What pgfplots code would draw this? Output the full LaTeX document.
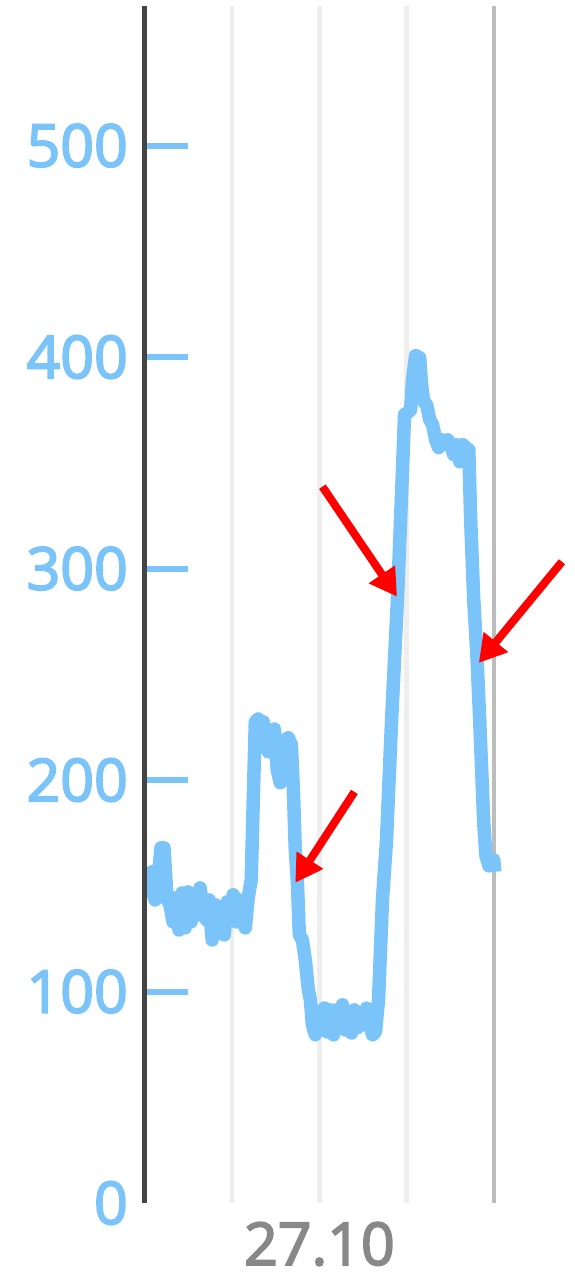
\documentclass[border=0pt]{standalone}
\usepackage{fontspec}
\setmainfont{Open Sans}
\newfontfamily\tickfont{Open Sans}[FakeBold=3]
\usepackage{pgfplots}
\pgfplotsset{compat=1.18}
\usetikzlibrary{arrows.meta}

\definecolor{lineblue}{HTML}{7BC4FA}
\definecolor{axisdark}{HTML}{444444}
\definecolor{gridlight}{HTML}{EEEEEE}
\definecolor{gridmid}{HTML}{BDBDBD}
\definecolor{labelgray}{HTML}{888888}
\definecolor{arrowred}{HTML}{FF0000}

\begin{document}
\begin{tikzpicture}
\useasboundingbox (0,0) rectangle (574pt,1275pt);
\begin{axis}[
    at={(145pt,72pt)}, anchor=south west,
    scale only axis, width=429pt, height=1197pt,
    xmin=-12, xmax=17.52, ymin=0, ymax=566,
    clip mode=individual,
    axis line style={draw=none},
    % hours around 27.10 00:00
    xtick={-6,0,6}, xticklabels={,27.10,},
    extra x ticks={12}, extra x tick labels={},
    extra x tick style={grid style={color=gridmid, line width=4.5pt}},
    xmajorgrids, grid style={color=gridlight, line width=4.5pt},
    xtick style={draw=none},
    xticklabel style={font=\tickfont\fontsize{59}{59}\selectfont, text=labelgray, anchor=north, inner sep=0pt, yshift=-19pt},
    ytick={100,200,...,500}, ytick pos=left,
    extra y ticks={0}, extra y tick style={ytick style={draw=none}},
    tick align=inside, major tick length=43pt,
    ytick style={color=lineblue, line width=6pt},
    yticklabel style={font=\tickfont\fontsize{59}{59}\selectfont, text=lineblue, anchor=east, inner sep=0pt, xshift=-17pt},
    /pgf/number format/assume math mode=true,
]
\addplot[lineblue, line width=13.5pt, line join=round] coordinates {
(-11.93,152.8) (-11.72,147.1) (-11.52,156.6) (-11.31,143.3) (-11.10,152.8)
(-10.90,167.9) (-10.69,167.9) (-10.48,143.3) (-10.28,141.0) (-10.07,132.9)
(-9.86,144.3) (-9.66,129.1) (-9.45,146.6) (-9.24,130.1) (-9.03,147.1)
(-8.83,132.9) (-8.62,143.3) (-8.41,136.2) (-8.21,149.0) (-8.00,137.7)
(-7.79,133.9) (-7.59,143.3) (-7.38,124.4) (-7.17,141.0) (-6.97,129.1)
(-6.76,138.6) (-6.55,126.8) (-6.34,142.4) (-6.14,134.8) (-5.93,145.7)
(-5.72,132.9) (-5.52,143.3) (-5.31,136.2) (-5.10,130.1) (-4.90,144.3)
(-4.69,152.8) (-4.55,190.6) (-4.41,227.5) (-4.21,228.9) (-4.00,223.7)
(-3.86,227.5) (-3.72,216.7) (-3.52,213.3) (-3.31,221.4) (-3.10,224.2)
(-2.90,204.8) (-2.69,198.7) (-2.55,214.3) (-2.34,219.0) (-2.14,220.0)
(-1.93,216.7) (-1.79,195.4) (-1.66,167.0) (-1.52,152.8) (-1.38,126.8)
(-1.17,124.4) (-0.97,114.9) (-0.76,100.8) (-0.62,96.0) (-0.48,84.2)
(-0.28,79.5) (-0.07,90.4) (0.14,81.8) (0.34,92.2) (0.55,80.9)
(0.76,91.3) (0.97,79.5) (1.17,91.3) (1.38,82.8) (1.59,93.7)
(1.79,81.8) (2.00,87.5) (2.21,80.4) (2.41,91.3) (2.62,82.8)
(2.83,88.9) (3.03,84.2) (3.24,92.2) (3.45,85.6) (3.66,79.5)
(3.86,80.9) (4.07,96.0) (4.34,143.3) (4.62,171.7) (4.97,228.5)
(5.38,286.7) (5.72,346.7) (5.86,372.8) (6.07,373.7) (6.28,375.1)
(6.41,389.3) (6.62,400.7) (6.90,399.7) (7.03,386.9) (7.17,378.9)
(7.38,377.5) (7.59,370.4) (7.79,368.0) (8.00,360.9) (8.21,357.1)
(8.41,360.9) (8.62,358.6) (8.83,360.9) (9.03,358.6) (9.24,353.8)
(9.45,358.6) (9.66,350.5) (9.86,358.6) (10.07,357.1) (10.28,356.2)
(10.41,323.1) (10.62,285.2) (10.83,260.2) (11.03,228.5) (11.31,179.8)
(11.45,164.6) (11.66,159.4) (11.86,160.4) (12.00,162.3) (12.07,156.6)
};
\draw[axisdark, line width=5pt] (axis cs:-12,0) -- (axis cs:-12,566);
\draw[arrowred, line width=8pt, -{Triangle[length=27pt, width=30pt]}]
    (axis cs:2.41,194.4) -- (axis cs:-1.66,151.4);
\draw[arrowred, line width=8pt, -{Triangle[length=27pt, width=30pt]}]
    (axis cs:0.21,338.7) -- (axis cs:5.34,286.7);
\draw[arrowred, line width=8pt, -{Triangle[length=27pt, width=30pt]}]
    (axis cs:16.69,303.2) -- (axis cs:10.97,255.4);
\end{axis}
\end{tikzpicture}
\end{document}
